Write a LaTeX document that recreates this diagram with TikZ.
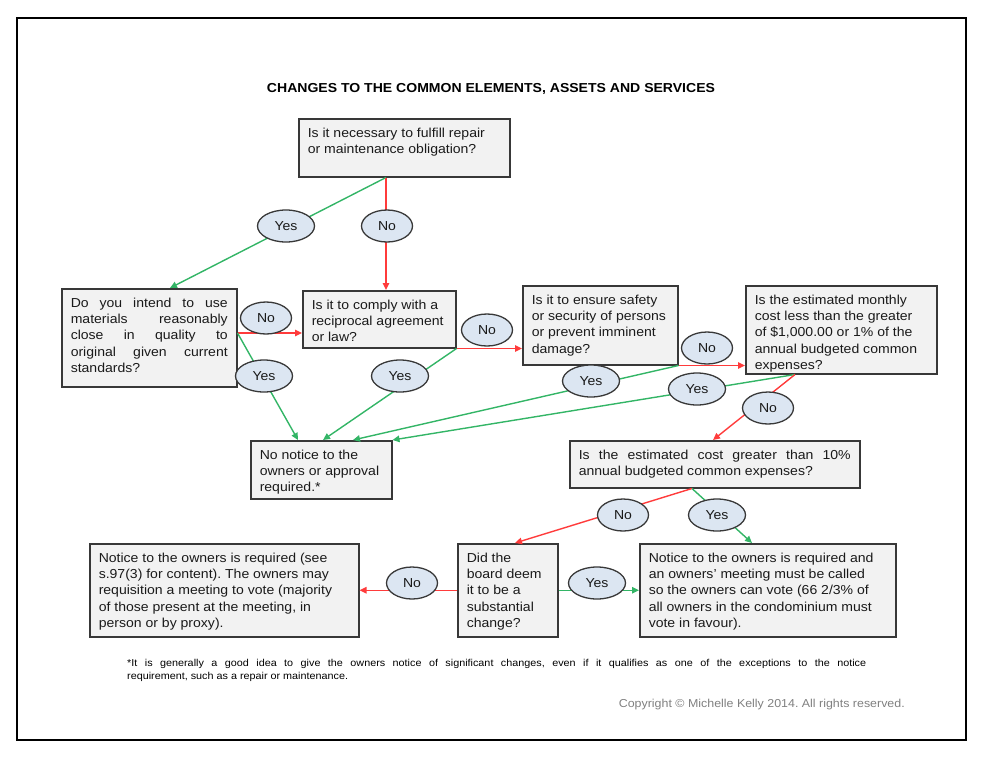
\documentclass[tikz,border=0pt]{standalone}
\usepackage{fontspec}
\setmainfont{Liberation Sans}[FakeStretch=1.08]
\usetikzlibrary{arrows.meta,shapes.geometric,shadows,calc}
\definecolor{boxfill}{HTML}{F2F2F2}
\definecolor{boxline}{HTML}{383838}
\definecolor{ellfill}{HTML}{DCE6F2}
\definecolor{gline}{HTML}{33B566}
\definecolor{rline}{HTML}{FF3B3B}
\definecolor{txt}{HTML}{1A1A1A}
\definecolor{copyc}{HTML}{808080}
\tikzset{
 fbox/.style={draw=boxline, line width=1.5pt, fill=boxfill, inner xsep=9pt, inner ysep=9pt,
   anchor=north west, font=\fontsize{13}{16.3}\selectfont, text=txt,
   drop shadow={shadow xshift=1.2pt, shadow yshift=-1.2pt, fill=black!55, opacity=1}},
 lab/.style={ellipse, draw=boxline, line width=1.3pt, fill=ellfill, minimum height=32pt,
   inner sep=0pt, font=\fontsize{13}{15}\selectfont, text=txt},
 yeslab/.style={lab, minimum width=57pt},
 nolab/.style={lab, minimum width=51pt},
 garr/.style={draw=gline, line width=1.4pt, -{Triangle[length=7pt,width=6.5pt]}},
 rarr/.style={draw=rline, line width=1.4pt, -{Triangle[length=7pt,width=6.5pt]}},
}
\newcommand\flowbox[6]{%
 \node[fbox] (#1) at (#2,#3) {\parbox[c][\dimexpr #5pt-18pt\relax][t]{\dimexpr #4pt-18pt\relax}{#6}};}
\frenchspacing
\begin{document}
\begin{tikzpicture}[x=1pt,y=-1pt]
\useasboundingbox (0,0) rectangle (982,756);
\draw[line width=2pt] (16.5,18) rectangle (966,740);

\node[anchor=base, font=\bfseries\fontsize{13}{15}\selectfont] (title) at (491,92)
  {CHANGES TO THE COMMON ELEMENTS, ASSETS AND SERVICES};

\flowbox{top}{298}{118}{211}{58}{\raggedright Is it necessary to fulfill repair\\ or maintenance obligation?}
\flowbox{left}{61}{288}{175}{98}{Do you intend to use\linebreak materials reasonably\linebreak close in quality to\linebreak original given current\linebreak standards?}
\flowbox{comply}{302}{290}{153}{57}{\raggedright Is it to comply with a\\ reciprocal agreement\\ or law?}
\flowbox{safety}{522}{285}{155}{79}{\raggedright Is it to ensure safety\\ or security of persons\\ or prevent imminent\\ damage?}
\flowbox{monthly}{745}{285}{191}{88}{\raggedright Is the estimated monthly\\ cost less than the greater\\ of \$1,000.00 or 1\% of the\\ annual budgeted common\\ expenses?}
\flowbox{nonotice}{250}{440}{141}{58}{\raggedright No notice to the\\ owners or approval\\ required.*}
\flowbox{tenp}{569}{440}{290}{47}{Is the estimated cost greater than 10\%\linebreak annual budgeted common expenses?}
\flowbox{noticeL}{89}{543}{269}{93}{\raggedright Notice to the owners is required (see\\ s.97(3) for content). The owners may\\ requisition a meeting to vote (majority\\ of those present at the meeting, in\\ person or by proxy).}
\flowbox{board}{457}{543}{100}{93}{\raggedright Did the\\ board deem\\ it to be a\\ substantial\\ change?}
\flowbox{noticeR}{639}{543}{256}{93}{\raggedright Notice to the owners is required and\\ an owners’ meeting must be called\\ so the owners can vote (66 2/3\% of\\ all owners in the condominium must\\ vote in favour).}

% connection points
\coordinate (topB) at ($(top.south west)+(88,0)$);
\coordinate (leftT) at ($(left.north west)+(109,0)$);
\coordinate (complyT) at ($(comply.north west)+(84,0)$);
\coordinate (leftR) at ($(left.north east)+(0,45)$);
\coordinate (nnA) at ($(nonotice.north west)+(48,0)$);
\coordinate (nnB) at ($(nonotice.north west)+(73,0)$);
\coordinate (nnC) at ($(nonotice.north west)+(103,0)$);
\coordinate (monB) at ($(monthly.south west)+(50,0)$);
\coordinate (tenT) at ($(tenp.north west)+(144,0)$);
\coordinate (tenB) at ($(tenp.south west)+(123,0)$);
\coordinate (boardT) at ($(board.north west)+(58,0)$);
\coordinate (nrT) at ($(noticeR.north west)+(113,0)$);

\draw[garr] (topB) -- (leftT);
\draw[rarr] (topB) -- (complyT);
\draw[rarr] (leftR) -- (comply.west |- leftR);
\draw[garr] (leftR) -- (nnA);
\draw[garr] (comply.south east) -- (nnB);
\draw[rarr] (comply.south east) -- (safety.west |- comply.south east);
\draw[rarr] (safety.south east) -- (monthly.west |- safety.south east);
\draw[garr] (safety.south east) -- (nnC);
\draw[garr] (monB) -- (nonotice.north east);
\draw[rarr] (monB) -- (tenT);
\draw[rarr] (tenB) -- (boardT);
\draw[garr] (tenB) -- (nrT);
\draw[rarr] (board.west) -- (noticeL.east);
\draw[garr] (board.east) -- (noticeR.west);

\node[yeslab] (y1) at (286,226) {Yes};
\node[nolab] (n1) at (387,226) {No};
\node[nolab] (n2) at (266,318) {No};
\node[yeslab] (y2) at (264,376) {Yes};
\node[yeslab] (y3) at (400,376) {Yes};
\node[nolab] (n3) at (487,330) {No};
\node[nolab] (n4) at (707,348) {No};
\node[yeslab] (y4) at (591,381) {Yes};
\node[yeslab] (y5) at (697,389) {Yes};
\node[nolab] (n5) at (768,408) {No};
\node[nolab] (n6) at (623,515) {No};
\node[yeslab] (y6) at (717,515) {Yes};
\node[nolab] (n7) at (412,583) {No};
\node[yeslab] (y7) at (597,583) {Yes};

\node[anchor=base west, inner sep=0pt] (foot) at (127,666)
  {\parbox[t]{739pt}{\fontsize{10}{13}\selectfont *It is generally a good idea to give the owners notice of significant changes, even if it qualifies as one of the exceptions to the notice\linebreak requirement, such as a repair or maintenance.}};
\node[anchor=base east, inner sep=0pt, text=copyc, font=\fontsize{11.5}{13}\selectfont] (copy) at (905,707)
  {Copyright © Michelle Kelly 2014. All rights reserved.};
\end{tikzpicture}
\end{document}
